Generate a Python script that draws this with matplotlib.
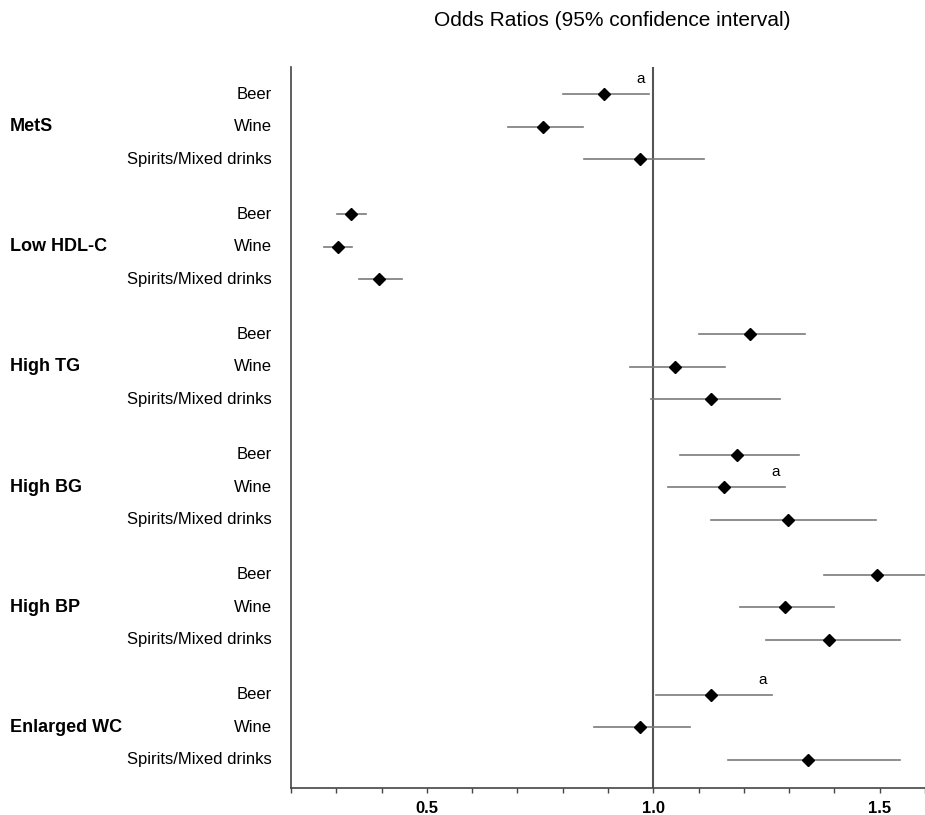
import numpy as np
import matplotlib.pyplot as plt

plt.rcParams['font.family'] = ['Liberation Sans', 'DejaVu Sans']

groups = ["MetS", "Low HDL-C", "High TG", "High BG", "High BP", "Enlarged WC"]
drinks = ["Beer", "Wine", "Spirits/Mixed drinks"]

# odds ratios and 95% CI, one row per group: beer, wine, spirits
odds = [[0.891, 0.757, 0.970],
        [0.332, 0.303, 0.395],
        [1.214, 1.048, 1.127],
        [1.184, 1.156, 1.298],
        [1.494, 1.291, 1.389],
        [1.127, 0.970, 1.341]]
ci_low = [[0.800, 0.679, 0.846],
          [0.301, 0.273, 0.350],
          [1.102, 0.949, 0.994],
          [1.060, 1.033, 1.127],
          [1.378, 1.191, 1.249],
          [1.006, 0.868, 1.166]]
ci_high = [[0.991, 0.845, 1.111],
           [0.366, 0.334, 0.446],
           [1.336, 1.158, 1.280],
           [1.322, 1.291, 1.492],
           [1.620, 1.400, 1.545],
           [1.262, 1.082, 1.545]]
# (group, drink) pairs marked with "a"
marked = [(0, 0), (3, 1), (5, 0)]

tick_vals = [0.5, 1.0, 1.5]

gap = 3.69
fig = plt.figure(figsize=(9.25, 8.15), dpi=100)
ax = fig.add_axes([291/925, 1 - 788/815, 634/925, 721/815])

for g in range(len(groups)):
    for k in range(len(drinks)):
        y = g*gap + k
        ax.plot([ci_low[g][k], ci_high[g][k]], [y, y], color='#7a7a7a', lw=1.2,
                zorder=2)
        ax.plot(odds[g][k], y, marker='D', color='black', ms=6.5, zorder=3)
        ax.text(-19/634, y, drinks[k], transform=ax.get_yaxis_transform(),
                ha='right', va='center', fontsize=12)
    ax.annotate(groups[g], xy=(0, g*gap + 1), xycoords=('figure fraction', 'data'),
                xytext=(10, 0), textcoords='offset pixels',
                ha='left', va='center', fontsize=13, fontweight='bold')

for g, k in marked:
    ax.text(ci_high[g][k] - 0.02, g*gap + k - 0.47, "a", ha='center', va='center',
            fontsize=11)

ax.axvline(1.0, color='#555555', lw=1.5, zorder=1)

ax.set_xlim(0.2, 0.2 + 634/456)
ax.set_ylim(5*gap + 2 + 0.86, -0.83)
ax.set_yticks([])
ticks = np.round(np.arange(0.2, 1.65, 0.1), 1)
ax.set_xticks(ticks)
ax.set_xticklabels([f"{t:.1f}" if t in tick_vals else "" for t in ticks],
                   fontweight='bold', fontsize=12)
ax.tick_params(axis='x', direction='out', length=3.5, width=1, color='#444444', pad=6)
for s in ['top', 'right']:
    ax.spines[s].set_visible(False)
ax.spines['left'].set_color('#444444')
ax.spines['bottom'].set_color('#444444')
ax.spines['left'].set_linewidth(1.2)
ax.spines['bottom'].set_linewidth(1.2)

fig.text(612/925, 1 - 20/815, "Odds Ratios (95% confidence interval)", ha='center',
         va='center', fontsize=15)

fig.savefig("out.png", dpi=100)
